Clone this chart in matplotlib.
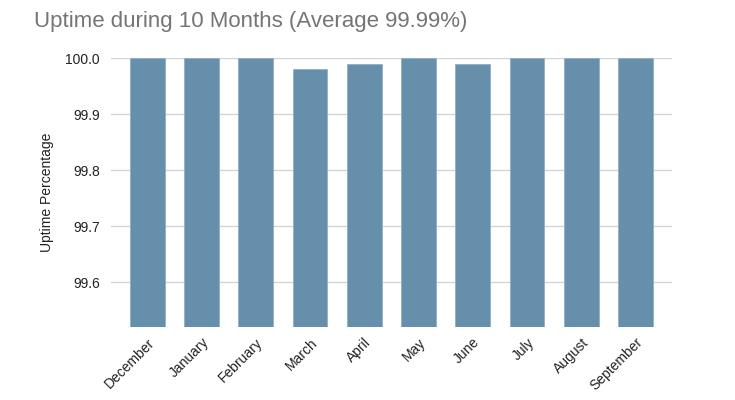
import matplotlib
matplotlib.use("Agg")
import matplotlib.pyplot as plt

months = ["December", "January", "February", "March", "April", "May", "June", "July", "August", "September"]
uptime = [100.0, 100.0, 100.0, 99.98, 99.99, 100.0, 99.99, 100.0, 100.0, 100.0]
yticks = [99.6, 99.7, 99.8, 99.9, 100.0]

plt.rcParams['font.family'] = ['Liberation Sans', 'DejaVu Sans']
fig = plt.figure(figsize=(7.35, 4.0), dpi=100)
ax = fig.add_axes([0.151, 0.1825, 0.763, 0.6725])
base = 99.52
ax.bar(range(len(months)), [v - base for v in uptime], bottom=base, width=0.64,
       color="#668fab", edgecolor="#8fb0c6", linewidth=0.6, zorder=3)
ax.set_ylim(base, 100.0)
ax.set_xlim(-0.67, len(months) - 0.33)
ax.set_yticks(yticks)
ax.set_yticklabels([f"{t:.1f}" for t in yticks], fontsize=10, color="#222222")
ax.set_xticks(range(len(months)))
ax.set_xticklabels(months, rotation=45, ha="right", rotation_mode="anchor", fontsize=10, color="#222222")
ax.tick_params(axis="x", length=0, pad=6)
ax.tick_params(axis="y", length=0, pad=8)
ax.grid(axis="y", color="#d4d4d4", linewidth=1, zorder=0)
for s in ax.spines.values():
    s.set_visible(False)
ax.set_ylabel("Uptime Percentage", fontsize=10, color="#222222", labelpad=8)
fig.text(0.046, 0.945, "Uptime during 10 Months (Average 99.99%)", fontsize=16, color="#757575", va="center")
fig.savefig("out.png", dpi=100)
